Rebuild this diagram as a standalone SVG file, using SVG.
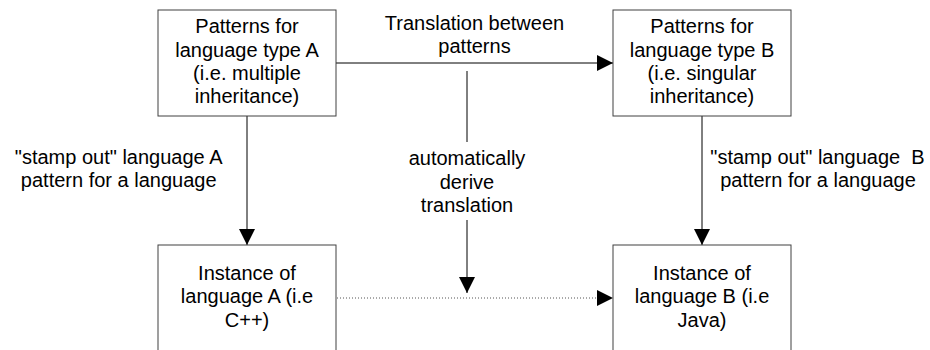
<svg xmlns="http://www.w3.org/2000/svg" width="930" height="350" viewBox="0 0 930 350">
<style>
  .box { fill: #fff; stroke: #404040; stroke-width: 1; }
  .t { font-family: "Liberation Sans", Arial, sans-serif; font-size: 20px; fill: #000; text-anchor: middle; }
  .ln { stroke: #000; stroke-width: 1; fill: none; }
  .dot { stroke: #555; stroke-width: 1; fill: none; stroke-dasharray: 1 2; }
</style>
<defs>
  <marker id="ah" viewBox="0 0 16 16" refX="16" refY="8" markerWidth="16" markerHeight="16" markerUnits="userSpaceOnUse" orient="auto">
    <path d="M0,0 L16,8 L0,16 Z" fill="#000"/>
  </marker>
</defs>
<rect width="930" height="350" fill="#fff"/>
<g id="connectors">
  <line class="ln" x1="336" y1="63" x2="613" y2="63" marker-end="url(#ah)"/>
  <line class="ln" x1="247" y1="116" x2="247" y2="245" marker-end="url(#ah)"/>
  <line class="ln" x1="702" y1="116" x2="702" y2="245" marker-end="url(#ah)"/>
  <line class="ln" x1="467" y1="71" x2="467" y2="142"/>
  <line class="ln" x1="467" y1="220" x2="467" y2="293" marker-end="url(#ah)"/>
  <line class="dot" x1="337" y1="298" x2="600" y2="298"/>
  <path d="M597,290 L613,298 L597,306 Z" fill="#000"/>
  <text class="t"><tspan x="474.5" y="29.5">Translation between</tspan><tspan x="474.5" y="53">patterns</tspan></text>
  <text class="t"><tspan x="118.7" y="164">"stamp out" language A</tspan><tspan x="118.7" y="187">pattern for a language</tspan></text>
  <text class="t" xml:space="preserve"><tspan x="817.5" y="164">"stamp out" language  B</tspan><tspan x="818" y="187">pattern for a language</tspan></text>
  <text class="t"><tspan x="467" y="165">automatically</tspan><tspan x="467" y="188.5">derive</tspan><tspan x="467" y="212">translation</tspan></text>
</g>
<g id="patternsA">
  <rect class="box" x="158" y="10" width="178" height="106"/>
  <text class="t"><tspan x="247" y="33.3">Patterns for</tspan><tspan x="247" y="56.6">language type A</tspan><tspan x="247" y="80">(i.e. multiple</tspan><tspan x="247" y="103.3">inheritance)</tspan></text>
</g>
<g id="patternsB">
  <rect class="box" x="613" y="10" width="178" height="106"/>
  <text class="t"><tspan x="702" y="33.3">Patterns for</tspan><tspan x="702" y="56.6">language type B</tspan><tspan x="702" y="80">(i.e. singular</tspan><tspan x="702" y="103.3">inheritance)</tspan></text>
</g>
<g id="instanceA">
  <rect class="box" x="158" y="245" width="178" height="130"/>
  <text class="t"><tspan x="247" y="280">Instance of</tspan><tspan x="247" y="303.3">language A (i.e</tspan><tspan x="247" y="326.6">C++)</tspan></text>
</g>
<g id="instanceB">
  <rect class="box" x="613" y="245" width="178" height="130"/>
  <text class="t"><tspan x="702" y="280">Instance of</tspan><tspan x="702" y="303.3">language B (i.e</tspan><tspan x="702" y="326.6">Java)</tspan></text>
</g>
</svg>
